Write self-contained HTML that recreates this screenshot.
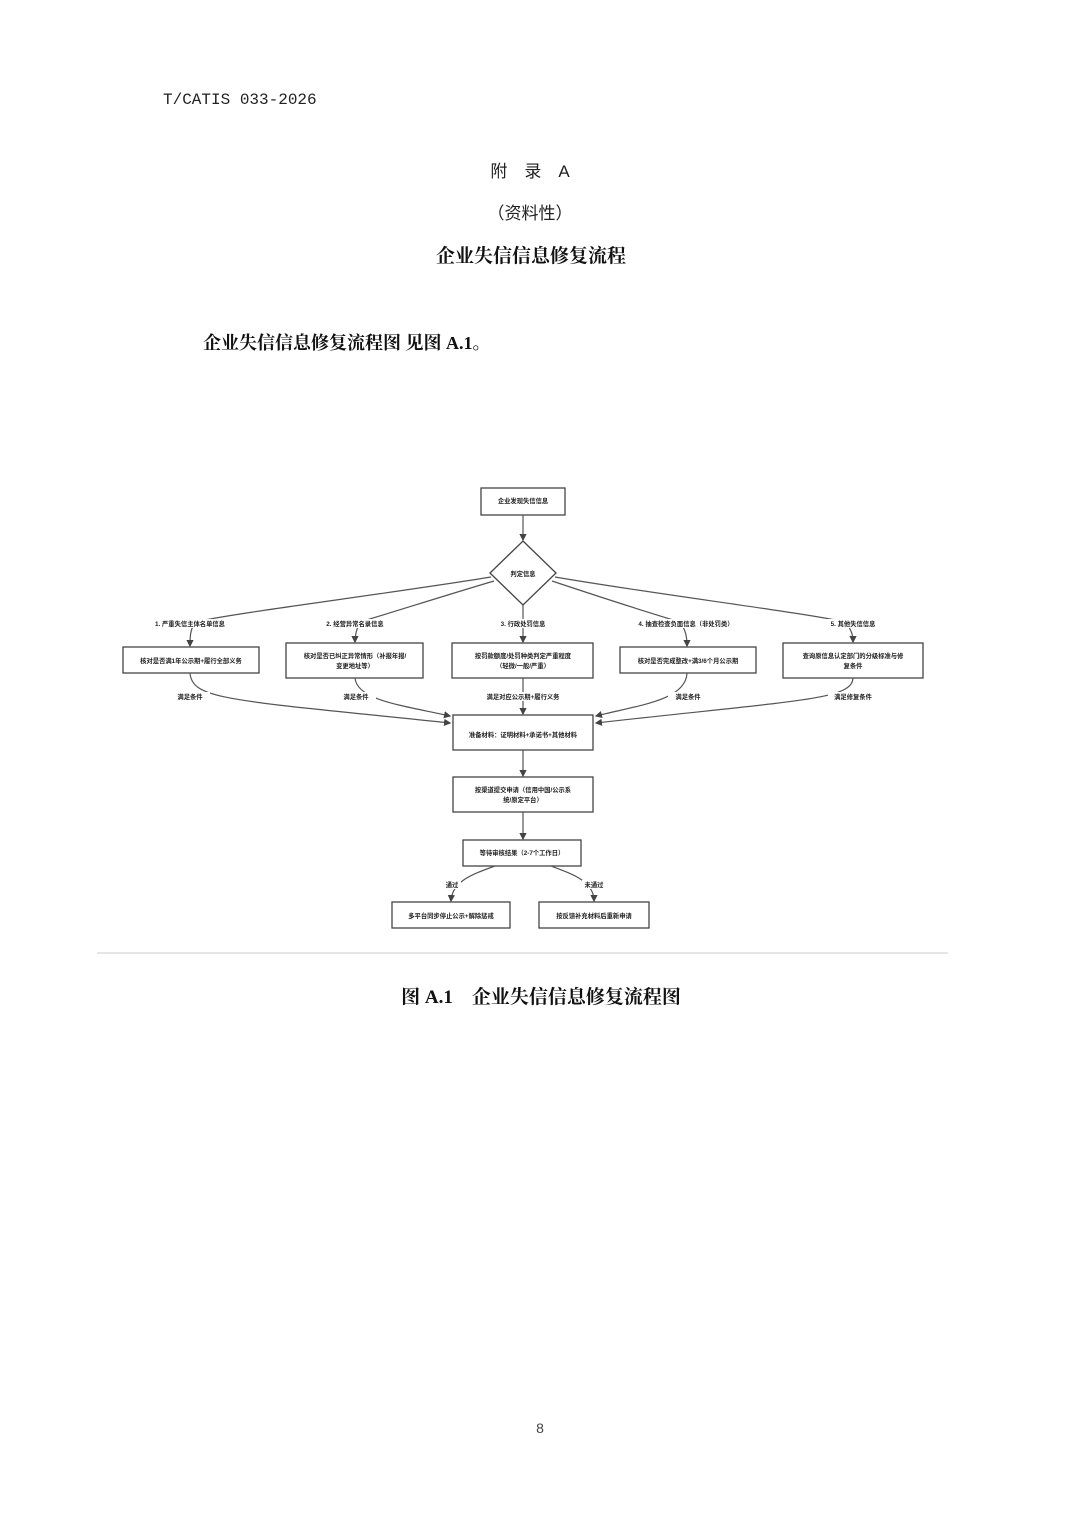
<!DOCTYPE html>
<html><head><meta charset="utf-8"><style>
html,body{margin:0;padding:0;background:#fff;width:1080px;height:1528px;overflow:hidden}
svg{display:block}
.s{font-family:"Liberation Sans","Noto Sans CJK SC",sans-serif}
.r{font-family:"Liberation Serif","Noto Serif CJK SC",serif}
.m{font-family:"Liberation Mono","Noto Sans CJK SC",monospace}
.b{fill:#fff;stroke:#444;stroke-width:1.3}
.l{fill:none;stroke:#555;stroke-width:1.2}
.t{font-size:6.3px;fill:#222;font-weight:bold;font-family:"Liberation Sans","Noto Sans CJK SC",sans-serif}
</style></head><body>
<svg width="1080" height="1528" viewBox="0 0 1080 1528" xmlns="http://www.w3.org/2000/svg">
<defs><marker id="a" markerWidth="6" markerHeight="6" refX="5" refY="3" orient="auto"><path d="M0,0L6,3L0,6z" fill="#444"/></marker></defs>
<text x="163" y="104" class="m" font-size="16" fill="#222">T/CATIS 033-2026</text>
<text x="530" y="177" class="s" font-size="17" fill="#222" text-anchor="middle">附　录　A</text>
<text x="530" y="219" class="s" font-size="17" fill="#222" text-anchor="middle">（资料性）</text>
<text x="531" y="262" class="r" font-size="19" font-weight="bold" fill="#111" text-anchor="middle">企业失信信息修复流程</text>
<text x="203" y="349" class="r" font-size="18" font-weight="bold" fill="#111">企业失信信息修复流程图 见图 A.1。</text>

<rect class="b" x="481" y="488" width="84" height="27"/>
<text class="t" x="523" y="503" text-anchor="middle">企业发现失信信息</text>
<line class="l" x1="523" y1="515" x2="523" y2="540" marker-end="url(#a)"/>
<polygon class="b" points="523,541 556,573 523,605 490,573"/>
<text class="t" x="523" y="576" text-anchor="middle">判定信息</text>

<path class="l" d="M491,577 C380,595 240,612 195,622 C190,630 190,638 190,646" marker-end="url(#a)"/>
<path class="l" d="M494,581 C440,597 400,610 360,622 C356,630 355,636 355,642" marker-end="url(#a)"/>
<line class="l" x1="523" y1="605" x2="523" y2="642" marker-end="url(#a)"/>
<path class="l" d="M552,581 C600,597 640,610 680,622 C686,630 687,638 687,646" marker-end="url(#a)"/>
<path class="l" d="M555,577 C660,595 800,612 845,622 C852,630 853,636 853,642" marker-end="url(#a)"/>

<rect x="130" y="619" width="130" height="9" fill="#fff"/>
<text class="t" x="190" y="626" text-anchor="middle">1. 严重失信主体名单信息</text>
<rect x="315" y="619" width="80" height="9" fill="#fff"/>
<text class="t" x="355" y="626" text-anchor="middle">2. 经营异常名录信息</text>
<rect x="490" y="619" width="64" height="9" fill="#fff"/>
<text class="t" x="523" y="626" text-anchor="middle">3. 行政处罚信息</text>
<rect x="630" y="619" width="112" height="9" fill="#fff"/>
<text class="t" x="686" y="626" text-anchor="middle">4. 抽查检查负面信息（非处罚类）</text>
<rect x="818" y="619" width="70" height="9" fill="#fff"/>
<text class="t" x="853" y="626" text-anchor="middle">5. 其他失信信息</text>

<rect class="b" x="123" y="647" width="136" height="26"/>
<text class="t" x="191" y="663" text-anchor="middle">核对是否满1年公示期+履行全部义务</text>
<rect class="b" x="286" y="643" width="137" height="35"/>
<text class="t" x="355" y="658" text-anchor="middle">核对是否已纠正异常情形（补报年报/</text>
<text class="t" x="355" y="668" text-anchor="middle">变更地址等）</text>
<rect class="b" x="452" y="643" width="141" height="35"/>
<text class="t" x="523" y="658" text-anchor="middle">按罚款额度/处罚种类判定严重程度</text>
<text class="t" x="523" y="668" text-anchor="middle">（轻微/一般/严重）</text>
<rect class="b" x="620" y="647" width="136" height="26"/>
<text class="t" x="688" y="663" text-anchor="middle">核对是否完成整改+满3/6个月公示期</text>
<rect class="b" x="783" y="643" width="140" height="35"/>
<text class="t" x="853" y="658" text-anchor="middle">查询原信息认定部门的分级标准与修</text>
<text class="t" x="853" y="668" text-anchor="middle">复条件</text>

<path class="l" d="M190,673 C192,700 230,700 450,723" marker-end="url(#a)"/>
<path class="l" d="M355,678 C357,700 400,705 450,716" marker-end="url(#a)"/>
<line class="l" x1="523" y1="678" x2="523" y2="714" marker-end="url(#a)"/>
<path class="l" d="M687,673 C686,700 640,705 596,716" marker-end="url(#a)"/>
<path class="l" d="M853,678 C852,700 800,700 596,723" marker-end="url(#a)"/>
<rect x="170" y="692" width="40" height="9" fill="#fff"/>
<text class="t" x="190" y="699" text-anchor="middle">满足条件</text>
<rect x="336" y="692" width="40" height="9" fill="#fff"/>
<text class="t" x="356" y="699" text-anchor="middle">满足条件</text>
<rect x="482" y="692" width="82" height="9" fill="#fff"/>
<text class="t" x="523" y="699" text-anchor="middle">满足对应公示期+履行义务</text>
<rect x="668" y="692" width="40" height="9" fill="#fff"/>
<text class="t" x="688" y="699" text-anchor="middle">满足条件</text>
<rect x="828" y="692" width="50" height="9" fill="#fff"/>
<text class="t" x="853" y="699" text-anchor="middle">满足修复条件</text>

<rect class="b" x="453" y="715" width="140" height="35"/>
<text class="t" x="523" y="737" text-anchor="middle">准备材料：证明材料+承诺书+其他材料</text>
<line class="l" x1="523" y1="750" x2="523" y2="776" marker-end="url(#a)"/>
<rect class="b" x="453" y="777" width="140" height="35"/>
<text class="t" x="523" y="792" text-anchor="middle">按渠道提交申请（信用中国/公示系</text>
<text class="t" x="523" y="802" text-anchor="middle">统/原定平台）</text>
<line class="l" x1="523" y1="812" x2="523" y2="839" marker-end="url(#a)"/>
<rect class="b" x="463" y="840" width="118" height="26"/>
<text class="t" x="522" y="855" text-anchor="middle">等待审核结果（2-7个工作日）</text>
<path class="l" d="M495,866 C470,875 452,882 451,901" marker-end="url(#a)"/>
<path class="l" d="M551,866 C575,875 594,882 594,901" marker-end="url(#a)"/>
<rect x="443" y="880" width="18" height="9" fill="#fff"/>
<text class="t" x="452" y="887" text-anchor="middle">通过</text>
<rect x="582" y="880" width="24" height="9" fill="#fff"/>
<text class="t" x="594" y="887" text-anchor="middle">未通过</text>
<rect class="b" x="392" y="902" width="118" height="26"/>
<text class="t" x="451" y="918" text-anchor="middle">多平台同步停止公示+解除惩戒</text>
<rect class="b" x="539" y="902" width="110" height="26"/>
<text class="t" x="594" y="918" text-anchor="middle">按反馈补充材料后重新申请</text>

<line x1="97" y1="953" x2="948" y2="953" stroke="#ddd" stroke-width="1.5"/>
<text x="541" y="1003" class="r" font-size="19" font-weight="bold" fill="#111" text-anchor="middle">图 A.1　企业失信信息修复流程图</text>
<text x="540" y="1433" class="s" font-size="14" fill="#444" text-anchor="middle">8</text>
</svg>
</body></html>
